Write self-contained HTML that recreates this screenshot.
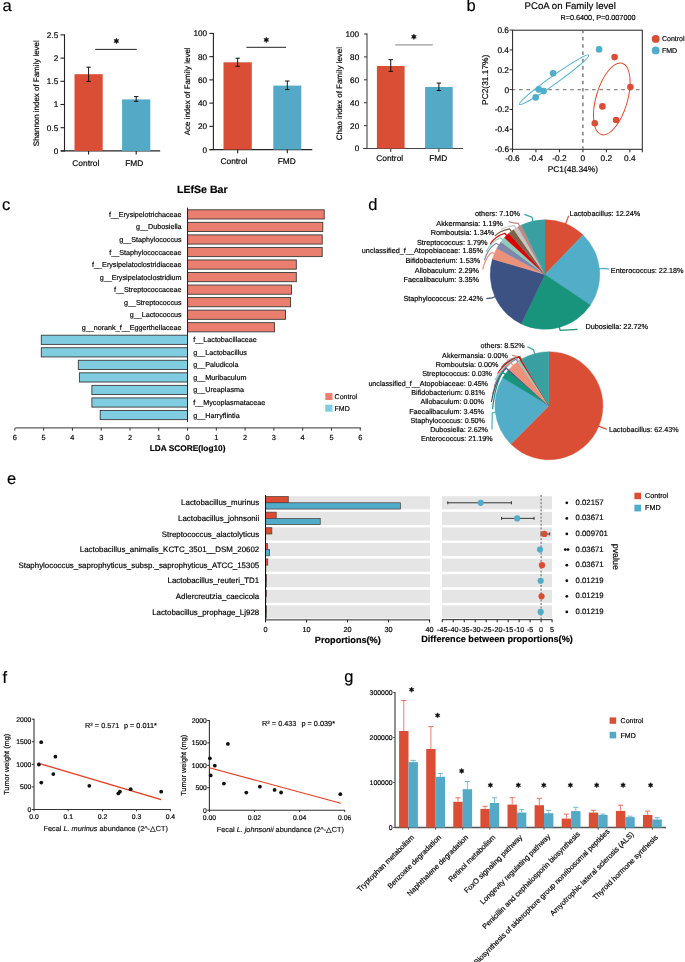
<!DOCTYPE html>
<html><head><meta charset="utf-8"><style>
html,body{margin:0;padding:0;background:#fff;}
svg{display:block;will-change:transform;text-rendering:geometricPrecision;font-family:"Liberation Sans",sans-serif;}
text{stroke:#111;stroke-width:0.18px;paint-order:stroke;}
</style></head><body>
<svg width="685" height="962" viewBox="0 0 685 962">
<rect width="685" height="962" fill="#fff"/>
<text x="2.4" y="11.2" font-size="16.5">a</text>
<text x="466.6" y="11.2" font-size="16.5">b</text>
<text x="1.9" y="210.2" font-size="16.5">c</text>
<text x="368.3" y="209.8" font-size="16.5">d</text>
<text x="7" y="483.9" font-size="16.5">e</text>
<text x="2.6" y="682.6" font-size="16.5">f</text>
<text x="344.3" y="682.4" font-size="16.5">g</text>
<line x1="64.5" y1="34.4" x2="64.5" y2="151.4" stroke="#222" stroke-width="1.1"/>
<line x1="60.9" y1="150.9" x2="160.2" y2="150.9" stroke="#222" stroke-width="1.1"/>
<line x1="60.5" y1="150.9" x2="64.5" y2="150.9" stroke="#222" stroke-width="1.1"/>
<text x="58.2" y="153.8" font-size="8.2" text-anchor="end">0</text>
<line x1="60.5" y1="127.7" x2="64.5" y2="127.7" stroke="#222" stroke-width="1.1"/>
<text x="58.2" y="130.6" font-size="8.2" text-anchor="end">0.5</text>
<line x1="60.5" y1="104.5" x2="64.5" y2="104.5" stroke="#222" stroke-width="1.1"/>
<text x="58.2" y="107.4" font-size="8.2" text-anchor="end">1</text>
<line x1="60.5" y1="81.3" x2="64.5" y2="81.3" stroke="#222" stroke-width="1.1"/>
<text x="58.2" y="84.2" font-size="8.2" text-anchor="end">1.5</text>
<line x1="60.5" y1="58.1" x2="64.5" y2="58.1" stroke="#222" stroke-width="1.1"/>
<text x="58.2" y="61" font-size="8.2" text-anchor="end">2</text>
<line x1="60.5" y1="34.9" x2="64.5" y2="34.9" stroke="#222" stroke-width="1.1"/>
<text x="58.2" y="37.8" font-size="8.2" text-anchor="end">2.5</text>
<rect x="74.5" y="74.2" width="28.2" height="76.7" fill="#D94E34"/>
<line x1="88.6" y1="67.2" x2="88.6" y2="81.4" stroke="#111" stroke-width="1"/>
<line x1="86.4" y1="67.2" x2="90.8" y2="67.2" stroke="#111" stroke-width="1"/>
<line x1="86.4" y1="81.4" x2="90.8" y2="81.4" stroke="#111" stroke-width="1"/>
<line x1="88.6" y1="150.9" x2="88.6" y2="154.5" stroke="#222" stroke-width="1.1"/>
<text x="85.8" y="165.5" font-size="8.35" text-anchor="middle">Control</text>
<rect x="122.1" y="99.4" width="28.2" height="51.5" fill="#54AAC6"/>
<line x1="136.2" y1="96.6" x2="136.2" y2="101.3" stroke="#111" stroke-width="1"/>
<line x1="134" y1="96.6" x2="138.4" y2="96.6" stroke="#111" stroke-width="1"/>
<line x1="134" y1="101.3" x2="138.4" y2="101.3" stroke="#111" stroke-width="1"/>
<line x1="136.2" y1="150.9" x2="136.2" y2="154.5" stroke="#222" stroke-width="1.1"/>
<text x="134.2" y="165.5" font-size="8.35" text-anchor="middle">FMD</text>
<line x1="95.2" y1="49.4" x2="136.8" y2="49.4" stroke="#222" stroke-width="1"/>
<polygon points="116.4,38.25 117.09,39.81 118.78,39.62 117.78,41 118.78,42.38 117.09,42.19 116.4,43.75 115.71,42.19 114.02,42.38 115.03,41 114.02,39.62 115.71,39.81" fill="#111" stroke="#111" stroke-width="0.5" stroke-linejoin="round"/>
<text x="39.3" y="93.2" font-size="7.95" text-anchor="middle" transform="rotate(-90 39.3 93.2)">Shannon index of Family level</text>
<line x1="213.4" y1="32.9" x2="213.4" y2="150.1" stroke="#222" stroke-width="1.1"/>
<line x1="209.5" y1="149.6" x2="312.3" y2="149.6" stroke="#222" stroke-width="1.1"/>
<line x1="209.4" y1="149.6" x2="213.4" y2="149.6" stroke="#222" stroke-width="1.1"/>
<text x="207.1" y="152.5" font-size="8.2" text-anchor="end">0</text>
<line x1="209.4" y1="126.36" x2="213.4" y2="126.36" stroke="#222" stroke-width="1.1"/>
<text x="207.1" y="129.26" font-size="8.2" text-anchor="end">20</text>
<line x1="209.4" y1="103.12" x2="213.4" y2="103.12" stroke="#222" stroke-width="1.1"/>
<text x="207.1" y="106.02" font-size="8.2" text-anchor="end">40</text>
<line x1="209.4" y1="79.88" x2="213.4" y2="79.88" stroke="#222" stroke-width="1.1"/>
<text x="207.1" y="82.78" font-size="8.2" text-anchor="end">60</text>
<line x1="209.4" y1="56.64" x2="213.4" y2="56.64" stroke="#222" stroke-width="1.1"/>
<text x="207.1" y="59.54" font-size="8.2" text-anchor="end">80</text>
<line x1="209.4" y1="33.4" x2="213.4" y2="33.4" stroke="#222" stroke-width="1.1"/>
<text x="207.1" y="36.3" font-size="8.2" text-anchor="end">100</text>
<rect x="223.5" y="62.3" width="28.3" height="87.3" fill="#D94E34"/>
<line x1="237.65" y1="58.2" x2="237.65" y2="66.3" stroke="#111" stroke-width="1"/>
<line x1="235.45" y1="58.2" x2="239.85" y2="58.2" stroke="#111" stroke-width="1"/>
<line x1="235.45" y1="66.3" x2="239.85" y2="66.3" stroke="#111" stroke-width="1"/>
<line x1="237.65" y1="149.6" x2="237.65" y2="153.2" stroke="#222" stroke-width="1.1"/>
<text x="233.95" y="164.1" font-size="8.35" text-anchor="middle">Control</text>
<rect x="273.3" y="85.6" width="28" height="64" fill="#54AAC6"/>
<line x1="287.3" y1="81" x2="287.3" y2="89.6" stroke="#111" stroke-width="1"/>
<line x1="285.1" y1="81" x2="289.5" y2="81" stroke="#111" stroke-width="1"/>
<line x1="285.1" y1="89.6" x2="289.5" y2="89.6" stroke="#111" stroke-width="1"/>
<line x1="287.3" y1="149.6" x2="287.3" y2="153.2" stroke="#222" stroke-width="1.1"/>
<text x="286.7" y="164.1" font-size="8.35" text-anchor="middle">FMD</text>
<line x1="246.4" y1="47.3" x2="286.1" y2="47.3" stroke="#222" stroke-width="1"/>
<polygon points="266.3,37.15 266.99,38.71 268.68,38.52 267.68,39.9 268.68,41.27 266.99,41.09 266.3,42.65 265.61,41.09 263.92,41.27 264.93,39.9 263.92,38.52 265.61,38.71" fill="#111" stroke="#111" stroke-width="0.5" stroke-linejoin="round"/>
<text x="189.6" y="91.3" font-size="7.95" text-anchor="middle" transform="rotate(-90 189.6 91.3)">Ace index of Family level</text>
<line x1="367" y1="33.5" x2="367" y2="149" stroke="#444" stroke-width="1.1"/>
<line x1="363.2" y1="148.5" x2="463" y2="148.5" stroke="#444" stroke-width="1.1"/>
<line x1="364" y1="148.5" x2="367" y2="148.5" stroke="#444" stroke-width="1.1"/>
<text x="359.2" y="151.4" font-size="8.2" text-anchor="end">0</text>
<line x1="364" y1="125.6" x2="367" y2="125.6" stroke="#444" stroke-width="1.1"/>
<text x="359.2" y="128.5" font-size="8.2" text-anchor="end">20</text>
<line x1="364" y1="102.7" x2="367" y2="102.7" stroke="#444" stroke-width="1.1"/>
<text x="359.2" y="105.6" font-size="8.2" text-anchor="end">40</text>
<line x1="364" y1="79.8" x2="367" y2="79.8" stroke="#444" stroke-width="1.1"/>
<text x="359.2" y="82.7" font-size="8.2" text-anchor="end">60</text>
<line x1="364" y1="56.9" x2="367" y2="56.9" stroke="#444" stroke-width="1.1"/>
<text x="359.2" y="59.8" font-size="8.2" text-anchor="end">80</text>
<line x1="364" y1="34" x2="367" y2="34" stroke="#444" stroke-width="1.1"/>
<text x="359.2" y="36.9" font-size="8.2" text-anchor="end">100</text>
<rect x="376.9" y="66" width="27.7" height="82.5" fill="#D94E34"/>
<line x1="390.75" y1="59.7" x2="390.75" y2="71.4" stroke="#111" stroke-width="1"/>
<line x1="388.55" y1="59.7" x2="392.95" y2="59.7" stroke="#111" stroke-width="1"/>
<line x1="388.55" y1="71.4" x2="392.95" y2="71.4" stroke="#111" stroke-width="1"/>
<line x1="390.75" y1="148.5" x2="390.75" y2="152.1" stroke="#444" stroke-width="1.1"/>
<text x="389.7" y="161.3" font-size="8.35" text-anchor="middle">Control</text>
<rect x="425.1" y="87" width="27.6" height="61.5" fill="#54AAC6"/>
<line x1="438.9" y1="83.1" x2="438.9" y2="90.5" stroke="#111" stroke-width="1"/>
<line x1="436.7" y1="83.1" x2="441.1" y2="83.1" stroke="#111" stroke-width="1"/>
<line x1="436.7" y1="90.5" x2="441.1" y2="90.5" stroke="#111" stroke-width="1"/>
<line x1="438.9" y1="148.5" x2="438.9" y2="152.1" stroke="#444" stroke-width="1.1"/>
<text x="438.25" y="161.3" font-size="8.35" text-anchor="middle">FMD</text>
<line x1="395.2" y1="44.9" x2="432.8" y2="44.9" stroke="#999" stroke-width="1.4"/>
<polygon points="413.9,34.05 414.59,35.61 416.28,35.42 415.27,36.8 416.28,38.17 414.59,37.99 413.9,39.55 413.21,37.99 411.52,38.17 412.52,36.8 411.52,35.42 413.21,35.61" fill="#111" stroke="#111" stroke-width="0.5" stroke-linejoin="round"/>
<text x="341.8" y="93.6" font-size="7.95" text-anchor="middle" transform="rotate(-90 341.8 93.6)">Chao index of Family level</text>
<rect x="512.6" y="30.2" width="129.7" height="119.1" fill="none" stroke="#222" stroke-width="1"/>
<line x1="582.9" y1="30.7" x2="582.9" y2="148.8" stroke="#888" stroke-width="1.6" stroke-dasharray="3.6 3.7" stroke-dashoffset="1.1"/>
<line x1="513.1" y1="89.6" x2="639.8" y2="89.6" stroke="#888" stroke-width="1.4" stroke-dasharray="3.6 3.7" stroke-dashoffset="1.3"/>
<line x1="509.6" y1="30.08" x2="512.6" y2="30.08" stroke="#222" stroke-width="1"/>
<text x="509" y="33.08" font-size="8.3" text-anchor="end">0.6</text>
<line x1="509.6" y1="49.92" x2="512.6" y2="49.92" stroke="#222" stroke-width="1"/>
<text x="509" y="52.92" font-size="8.3" text-anchor="end">0.4</text>
<line x1="509.6" y1="69.76" x2="512.6" y2="69.76" stroke="#222" stroke-width="1"/>
<text x="509" y="72.76" font-size="8.3" text-anchor="end">0.2</text>
<line x1="509.6" y1="89.6" x2="512.6" y2="89.6" stroke="#222" stroke-width="1"/>
<text x="509" y="92.6" font-size="8.3" text-anchor="end">0</text>
<line x1="509.6" y1="109.44" x2="512.6" y2="109.44" stroke="#222" stroke-width="1"/>
<text x="509" y="112.44" font-size="8.3" text-anchor="end">-0.2</text>
<line x1="509.6" y1="129.28" x2="512.6" y2="129.28" stroke="#222" stroke-width="1"/>
<text x="509" y="132.28" font-size="8.3" text-anchor="end">-0.4</text>
<line x1="509.6" y1="149.12" x2="512.6" y2="149.12" stroke="#222" stroke-width="1"/>
<text x="509" y="152.12" font-size="8.3" text-anchor="end">-0.6</text>
<line x1="512.46" y1="149.3" x2="512.46" y2="152.3" stroke="#222" stroke-width="1"/>
<text x="512.46" y="160.6" font-size="8.3" text-anchor="middle">-0.6</text>
<line x1="535.94" y1="149.3" x2="535.94" y2="152.3" stroke="#222" stroke-width="1"/>
<text x="535.94" y="160.6" font-size="8.3" text-anchor="middle">-0.4</text>
<line x1="559.42" y1="149.3" x2="559.42" y2="152.3" stroke="#222" stroke-width="1"/>
<text x="559.42" y="160.6" font-size="8.3" text-anchor="middle">-0.2</text>
<line x1="582.9" y1="149.3" x2="582.9" y2="152.3" stroke="#222" stroke-width="1"/>
<text x="582.9" y="160.6" font-size="8.3" text-anchor="middle">0</text>
<line x1="606.38" y1="149.3" x2="606.38" y2="152.3" stroke="#222" stroke-width="1"/>
<text x="606.38" y="160.6" font-size="8.3" text-anchor="middle">0.2</text>
<line x1="629.86" y1="149.3" x2="629.86" y2="152.3" stroke="#222" stroke-width="1"/>
<text x="629.86" y="160.6" font-size="8.3" text-anchor="middle">0.4</text>
<line x1="642.3" y1="149.3" x2="642.3" y2="152.3" stroke="#222" stroke-width="1"/>
<text x="570.2" y="9.4" font-size="9.6" text-anchor="middle">PCoA on Family level</text>
<text x="598" y="20.3" font-size="7.25" text-anchor="middle">R=0.6400, P=0.007000</text>
<text x="572.8" y="171.6" font-size="8.4" text-anchor="middle">PC1(48.34%)</text>
<text x="488.4" y="79.8" font-size="8.4" text-anchor="middle" transform="rotate(-90 488.4 79.8)">PC2(31.17%)</text>
<ellipse cx="554.05" cy="79.8" rx="42.5" ry="4.0" fill="none" stroke="#4FAFCB" stroke-width="1" transform="rotate(-35.4 554.05 79.8)"/>
<ellipse cx="611.8" cy="98.9" rx="15.7" ry="37.2" fill="none" stroke="#D94E34" stroke-width="1" transform="rotate(16.3 611.8 98.9)"/>
<circle cx="599.1" cy="49.4" r="3.3" fill="#4FAFCB"/>
<circle cx="553.1" cy="73.3" r="3.3" fill="#4FAFCB"/>
<circle cx="538.8" cy="89.4" r="3.3" fill="#4FAFCB"/>
<circle cx="543.6" cy="91.1" r="3.3" fill="#4FAFCB"/>
<circle cx="535.7" cy="97.4" r="3.3" fill="#4FAFCB"/>
<circle cx="614.6" cy="57.1" r="3.3" fill="#D94E34"/>
<circle cx="630.4" cy="87.1" r="3.3" fill="#D94E34"/>
<circle cx="602.4" cy="106.4" r="3.3" fill="#D94E34"/>
<circle cx="616.1" cy="120" r="3.3" fill="#D94E34"/>
<circle cx="594.8" cy="123.3" r="3.3" fill="#D94E34"/>
<circle cx="655.7" cy="38.9" r="3.95" fill="#D94E34"/>
<circle cx="655.7" cy="50.4" r="3.95" fill="#4FAFCB"/>
<text x="661.9" y="40.9" font-size="7.05">Control</text>
<text x="661.9" y="52.6" font-size="7.05">FMD</text>
<text x="202.3" y="193.2" font-size="10.6" text-anchor="middle" font-weight="bold">LEfSe Bar</text>
<rect x="187.55" y="209.8" width="136.65" height="9.2" fill="#EA7F6F" stroke="#3a3a3a" stroke-width="0.9"/>
<text x="181.6" y="216.9" font-size="7.2" text-anchor="end">f__Erysipelotrichaceae</text>
<rect x="187.55" y="222.34" width="135.25" height="9.2" fill="#EA7F6F" stroke="#3a3a3a" stroke-width="0.9"/>
<text x="181.6" y="229.44" font-size="7.2" text-anchor="end">g__Dubosiella</text>
<rect x="187.55" y="234.88" width="134.65" height="9.2" fill="#EA7F6F" stroke="#3a3a3a" stroke-width="0.9"/>
<text x="181.6" y="241.98" font-size="7.2" text-anchor="end">g__Staphylococcus</text>
<rect x="187.55" y="247.42" width="134.65" height="9.2" fill="#EA7F6F" stroke="#3a3a3a" stroke-width="0.9"/>
<text x="181.6" y="254.52" font-size="7.2" text-anchor="end">f__Staphylococcaceae</text>
<rect x="187.55" y="259.96" width="108.75" height="9.2" fill="#EA7F6F" stroke="#3a3a3a" stroke-width="0.9"/>
<text x="181.6" y="267.06" font-size="7.2" text-anchor="end">f__Erysipelatoclostridiaceae</text>
<rect x="187.55" y="272.5" width="108.75" height="9.2" fill="#EA7F6F" stroke="#3a3a3a" stroke-width="0.9"/>
<text x="181.6" y="279.6" font-size="7.2" text-anchor="end">g__Erysipelatoclostridium</text>
<rect x="187.55" y="285.04" width="103.95" height="9.2" fill="#EA7F6F" stroke="#3a3a3a" stroke-width="0.9"/>
<text x="181.6" y="292.14" font-size="7.2" text-anchor="end">f__Streptococcaceae</text>
<rect x="187.55" y="297.58" width="103.05" height="9.2" fill="#EA7F6F" stroke="#3a3a3a" stroke-width="0.9"/>
<text x="181.6" y="304.68" font-size="7.2" text-anchor="end">g__Streptococcus</text>
<rect x="187.55" y="310.12" width="97.95" height="9.2" fill="#EA7F6F" stroke="#3a3a3a" stroke-width="0.9"/>
<text x="181.6" y="317.22" font-size="7.2" text-anchor="end">g__Lactococcus</text>
<rect x="187.55" y="322.66" width="86.85" height="9.2" fill="#EA7F6F" stroke="#3a3a3a" stroke-width="0.9"/>
<text x="181.6" y="329.76" font-size="7.2" text-anchor="end">g__norank_f__Eggerthellaceae</text>
<rect x="41.3" y="335.2" width="146.25" height="9.2" fill="#80CCE0" stroke="#3a3a3a" stroke-width="0.9"/>
<text x="193.3" y="342.3" font-size="7.2">f__Lactobacillaceae</text>
<rect x="41.3" y="347.74" width="146.25" height="9.2" fill="#80CCE0" stroke="#3a3a3a" stroke-width="0.9"/>
<text x="193.3" y="354.84" font-size="7.2">g__Lactobacillus</text>
<rect x="78.3" y="360.28" width="109.25" height="9.2" fill="#80CCE0" stroke="#3a3a3a" stroke-width="0.9"/>
<text x="193.3" y="367.38" font-size="7.2">g__Paludicola</text>
<rect x="79.4" y="372.82" width="108.15" height="9.2" fill="#80CCE0" stroke="#3a3a3a" stroke-width="0.9"/>
<text x="193.3" y="379.92" font-size="7.2">g__Muribaculum</text>
<rect x="91.9" y="385.36" width="95.65" height="9.2" fill="#80CCE0" stroke="#3a3a3a" stroke-width="0.9"/>
<text x="193.3" y="392.46" font-size="7.2">g__Ureaplasma</text>
<rect x="91.9" y="397.9" width="95.65" height="9.2" fill="#80CCE0" stroke="#3a3a3a" stroke-width="0.9"/>
<text x="193.3" y="405" font-size="7.2">f__Mycoplasmataceae</text>
<rect x="100.2" y="410.44" width="87.35" height="9.2" fill="#80CCE0" stroke="#3a3a3a" stroke-width="0.9"/>
<text x="193.3" y="417.54" font-size="7.2">g__Harryflintia</text>
<line x1="187.55" y1="207.6" x2="187.55" y2="421.9" stroke="#222" stroke-width="1"/>
<line x1="15.3" y1="427.9" x2="360.9" y2="427.9" stroke="#333" stroke-width="1"/>
<line x1="14.87" y1="427.9" x2="14.87" y2="430.6" stroke="#333" stroke-width="1"/>
<text x="14.87" y="439.9" font-size="7.4" text-anchor="middle">6</text>
<line x1="43.65" y1="427.9" x2="43.65" y2="430.6" stroke="#333" stroke-width="1"/>
<text x="43.65" y="439.9" font-size="7.4" text-anchor="middle">5</text>
<line x1="72.43" y1="427.9" x2="72.43" y2="430.6" stroke="#333" stroke-width="1"/>
<text x="72.43" y="439.9" font-size="7.4" text-anchor="middle">4</text>
<line x1="101.21" y1="427.9" x2="101.21" y2="430.6" stroke="#333" stroke-width="1"/>
<text x="101.21" y="439.9" font-size="7.4" text-anchor="middle">3</text>
<line x1="129.99" y1="427.9" x2="129.99" y2="430.6" stroke="#333" stroke-width="1"/>
<text x="129.99" y="439.9" font-size="7.4" text-anchor="middle">2</text>
<line x1="158.77" y1="427.9" x2="158.77" y2="430.6" stroke="#333" stroke-width="1"/>
<text x="158.77" y="439.9" font-size="7.4" text-anchor="middle">1</text>
<line x1="187.55" y1="427.9" x2="187.55" y2="430.6" stroke="#333" stroke-width="1"/>
<text x="187.55" y="439.9" font-size="7.4" text-anchor="middle">0</text>
<line x1="216.33" y1="427.9" x2="216.33" y2="430.6" stroke="#333" stroke-width="1"/>
<text x="216.33" y="439.9" font-size="7.4" text-anchor="middle">1</text>
<line x1="245.11" y1="427.9" x2="245.11" y2="430.6" stroke="#333" stroke-width="1"/>
<text x="245.11" y="439.9" font-size="7.4" text-anchor="middle">2</text>
<line x1="273.89" y1="427.9" x2="273.89" y2="430.6" stroke="#333" stroke-width="1"/>
<text x="273.89" y="439.9" font-size="7.4" text-anchor="middle">3</text>
<line x1="302.67" y1="427.9" x2="302.67" y2="430.6" stroke="#333" stroke-width="1"/>
<text x="302.67" y="439.9" font-size="7.4" text-anchor="middle">4</text>
<line x1="331.45" y1="427.9" x2="331.45" y2="430.6" stroke="#333" stroke-width="1"/>
<text x="331.45" y="439.9" font-size="7.4" text-anchor="middle">5</text>
<line x1="360.23" y1="427.9" x2="360.23" y2="430.6" stroke="#333" stroke-width="1"/>
<text x="360.23" y="439.9" font-size="7.4" text-anchor="middle">6</text>
<text x="187.6" y="451.2" font-size="8.3" text-anchor="middle" font-weight="bold">LDA SCORE(log10)</text>
<rect x="325.3" y="393.1" width="7.2" height="6.9" fill="#EA7F6F"/>
<rect x="325.3" y="404.7" width="7.2" height="7" fill="#80CCE0"/>
<text x="334.6" y="399" font-size="7">Control</text>
<text x="334.6" y="410.6" font-size="7">FMD</text>
<path d="M545,274.5 L545,219.7 A54.8,54.8 0 0 1 583.11,235.12 Z" stroke="#D94E34" stroke-width="0.4" fill="#D94E34"/>
<path d="M545,274.5 L583.11,235.12 A54.8,54.8 0 0 1 590.48,305.07 Z" stroke="#52ADC9" stroke-width="0.4" fill="#52ADC9"/>
<path d="M545,274.5 L590.48,305.07 A54.8,54.8 0 0 1 521.23,323.88 Z" stroke="#18947D" stroke-width="0.4" fill="#18947D"/>
<path d="M545,274.5 L521.23,323.88 A54.8,54.8 0 0 1 492.43,259.01 Z" stroke="#3B5282" stroke-width="0.4" fill="#3B5282"/>
<path d="M545,274.5 L492.43,259.01 A54.8,54.8 0 0 1 496.83,248.37 Z" stroke="#EC917A" stroke-width="0.4" fill="#EC917A"/>
<path d="M545,274.5 L496.83,248.37 A54.8,54.8 0 0 1 501.07,241.73 Z" stroke="#7F87AA" stroke-width="0.4" fill="#7F87AA"/>
<path d="M545,274.5 L501.07,241.73 A54.8,54.8 0 0 1 504.42,237.67 Z" stroke="#8ECDBB" stroke-width="0.4" fill="#8ECDBB"/>
<path d="M545,274.5 L504.42,237.67 A54.8,54.8 0 0 1 508.97,233.21 Z" stroke="#D80000" stroke-width="0.4" fill="#D80000"/>
<path d="M545,274.5 L508.97,233.21 A54.8,54.8 0 0 1 513.83,229.43 Z" stroke="#7E6148" stroke-width="0.4" fill="#7E6148"/>
<path d="M545,274.5 L513.83,229.43 A54.8,54.8 0 0 1 517.73,226.97 Z" stroke="#C6C6C6" stroke-width="0.4" fill="#C6C6C6"/>
<path d="M545,274.5 L517.73,226.97 A54.8,54.8 0 0 1 521.36,225.06 Z" stroke="#BE8985" stroke-width="0.4" fill="#BE8985"/>
<path d="M545,274.5 L521.36,225.06 A54.8,54.8 0 0 1 545,219.7 Z" stroke="#3A9FA0" stroke-width="0.4" fill="#3A9FA0"/>
<path d="M568.6,215.8 Q568.2,216.97 567.81,218.14 L565.37,224.17" stroke="#D94E34" stroke-width="1.2" fill="none"/>
<text x="569.6" y="216.1" font-size="7.28">Lactobacillus: 12.24%</text>
<path d="M609.2,269.2 Q606.34,268.77 603.48,268.34 L599,268.81" stroke="#52ADC9" stroke-width="1.2" fill="none"/>
<text x="610.8" y="272.7" font-size="7.28">Enterococcus: 22.18%</text>
<path d="M577.5,329.4 Q568.82,329.84 560.15,330.28 L559.23,326.9" stroke="#18947D" stroke-width="1.2" fill="none"/>
<text x="585.4" y="329.2" font-size="7.28">Dubosiella: 22.72%</text>
<path d="M486.4,298.6 Q489.29,298.28 492.17,297.95 L495.37,296.53" stroke="#3B5282" stroke-width="1.2" fill="none"/>
<text x="483" y="301.1" font-size="7.28" text-anchor="end">Staphylococcus: 22.42%</text>
<path d="M524.4,214.4 Q528.2,215.78 531.99,217.16 L532.99,221.55" stroke="#3A9FA0" stroke-width="1.2" fill="none"/>
<text x="519.9" y="216" font-size="7.28" text-anchor="end">others: 7.10%</text>
<path d="M508.8,221.6 Q511.6,222.81 518.13,223.33 L519.76,226.42" stroke="#BE8985" stroke-width="1.2" fill="none"/>
<text x="503" y="225.8" font-size="7.28" text-anchor="end">Akkermansia: 1.19%</text>
<path d="M501,229.4 Q504.95,226.75 514.15,225.62 L516.02,228.58" stroke="#C6C6C6" stroke-width="1.2" fill="none"/>
<text x="494.2" y="234.7" font-size="7.28" text-anchor="end">Romboutsia: 1.34%</text>
<path d="M494.8,236.2 Q499.21,231.08 509.5,228.88 L511.65,231.65" stroke="#7E6148" stroke-width="1.2" fill="none"/>
<text x="487.6" y="244.5" font-size="7.28" text-anchor="end">Streptococcus: 1.79%</text>
<path d="M490.1,244.5 Q494.43,236.61 504.53,233.23 L506.98,235.73" stroke="#D80000" stroke-width="1.2" fill="none"/>
<text x="483" y="253.4" font-size="7.28" text-anchor="end">unclassified_f__Atopobiaceae: 1.85%</text>
<path d="M486.4,251.8 Q490.6,241.97 500.38,237.75 L503.09,239.98" stroke="#8ECDBB" stroke-width="1.2" fill="none"/>
<text x="480.2" y="263.2" font-size="7.28" text-anchor="end">Bifidobacterium: 1.53%</text>
<path d="M484.4,260.1 Q487.97,248.38 496.31,243.36 L499.25,245.25" stroke="#7F87AA" stroke-width="1.2" fill="none"/>
<text x="479" y="272.5" font-size="7.28" text-anchor="end">Allobaculum: 2.29%</text>
<path d="M482.8,269.5 Q485.43,257.55 491.58,252.43 L494.81,253.77" stroke="#EC917A" stroke-width="1.2" fill="none"/>
<text x="479" y="281.9" font-size="7.28" text-anchor="end">Faecalibaculum: 3.35%</text>
<path d="M548.9,405.7 L548.9,351.7 A54.0,54.0 0 1 1 510.88,444.05 Z" stroke="#D94E34" stroke-width="0.4" fill="#D94E34"/>
<path d="M548.9,405.7 L510.88,444.05 A54.0,54.0 0 0 1 502.63,377.86 Z" stroke="#52ADC9" stroke-width="0.4" fill="#52ADC9"/>
<path d="M548.9,405.7 L502.63,377.86 A54.0,54.0 0 0 1 507.82,370.66 Z" stroke="#18947D" stroke-width="0.4" fill="#18947D"/>
<path d="M548.9,405.7 L507.82,370.66 A54.0,54.0 0 0 1 508.94,369.38 Z" stroke="#3B5282" stroke-width="0.4" fill="#3B5282"/>
<path d="M548.9,405.7 L508.94,369.38 A54.0,54.0 0 0 1 517.68,361.64 Z" stroke="#EC917A" stroke-width="0.4" fill="#EC917A"/>
<path d="M548.9,405.7 L517.68,361.64 A54.0,54.0 0 0 1 519.97,360.11 Z" stroke="#8ECDBB" stroke-width="0.4" fill="#8ECDBB"/>
<path d="M548.9,405.7 L519.97,360.11 A54.0,54.0 0 0 1 521.27,359.31 Z" stroke="#D80000" stroke-width="0.4" fill="#D80000"/>
<path d="M548.9,405.7 L521.27,359.31 A54.0,54.0 0 0 1 521.35,359.25 Z" stroke="#7E6148" stroke-width="0.4" fill="#7E6148"/>
<path d="M548.9,405.7 L521.35,359.25 A54.0,54.0 0 0 1 548.9,351.7 Z" stroke="#3A9FA0" stroke-width="0.4" fill="#3A9FA0"/>
<path d="M607.1,429.2 Q604.35,428.3 601.61,427.4 L598.37,426.06" stroke="#D94E34" stroke-width="1.2" fill="none"/>
<text x="608.9" y="431.7" font-size="7.18">Lactobacillus: 62.43%</text>
<path d="M527.3,346.7 Q530.43,348.23 533.56,349.77 L534.75,354.11" stroke="#3A9FA0" stroke-width="1.2" fill="none"/>
<text x="524.7" y="348.4" font-size="7.18" text-anchor="end">others: 8.52%</text>
<path d="M512.2,355.1 Q514.49,356.2 519.82,356.67 L521.61,359.68" stroke="#BE8985" stroke-width="1.2" fill="none"/>
<text x="507.9" y="357.5" font-size="7.18" text-anchor="end">Akkermansia: 0.00%</text>
<path d="M506.5,361.2 Q510.5,358.03 519.82,356.67 L521.61,359.68" stroke="#C6C6C6" stroke-width="1.2" fill="none"/>
<text x="498.3" y="367.1" font-size="7.18" text-anchor="end">Romboutsia: 0.00%</text>
<path d="M501.3,367.5 Q506.84,359.94 519.78,356.7 L521.57,359.71" stroke="#7E6148" stroke-width="1.2" fill="none"/>
<text x="492" y="376.2" font-size="7.18" text-anchor="end">Streptococcus: 0.03%</text>
<path d="M497.7,373.8 Q504.1,362.14 519.04,357.15 L520.87,360.13" stroke="#D80000" stroke-width="1.2" fill="none"/>
<text x="488" y="385.8" font-size="7.18" text-anchor="end">unclassified_f__Atopobiaceae: 0.45%</text>
<path d="M495.1,380 Q501.71,364.86 517.14,358.37 L519.09,361.27" stroke="#8ECDBB" stroke-width="1.2" fill="none"/>
<text x="485" y="395.1" font-size="7.18" text-anchor="end">Bifidobacterium: 0.81%</text>
<path d="M494,386.8 Q500.58,367.47 515.95,359.19 L517.97,362.05" stroke="#7F87AA" stroke-width="1.2" fill="none"/>
<text x="483.8" y="404" font-size="7.18" text-anchor="end">Allobaculum: 0.00%</text>
<path d="M492.5,394.1 Q498.08,372.35 511.11,363.03 L513.43,365.65" stroke="#EC917A" stroke-width="1.2" fill="none"/>
<text x="483.8" y="413.6" font-size="7.18" text-anchor="end">Faecalibaculum: 3.45%</text>
<path d="M491.4,401.9 Q495.82,378.19 506.12,368.03 L508.75,370.35" stroke="#3B5282" stroke-width="1.2" fill="none"/>
<text x="485" y="422.7" font-size="7.18" text-anchor="end">Staphylococcus: 0.50%</text>
<path d="M492.5,409.1 Q495.54,383.41 502.64,372.4 L505.48,374.44" stroke="#18947D" stroke-width="1.2" fill="none"/>
<text x="488" y="432" font-size="7.18" text-anchor="end">Dubosiella: 2.62%</text>
<path d="M492,429.4 Q492.1,417.75 492.34,412.76 L495.81,412.32" stroke="#52ADC9" stroke-width="1.2" fill="none"/>
<text x="492.7" y="441.4" font-size="7.18" text-anchor="end">Enterococcus: 21.19%</text>
<rect x="265.5" y="496.25" width="164.4" height="13.09" fill="#E5E5E5"/>
<rect x="442" y="496.25" width="110.1" height="13.09" fill="#E5E5E5"/>
<rect x="265.5" y="511.84" width="164.4" height="13.09" fill="#E5E5E5"/>
<rect x="442" y="511.84" width="110.1" height="13.09" fill="#E5E5E5"/>
<rect x="265.5" y="527.43" width="164.4" height="13.09" fill="#E5E5E5"/>
<rect x="442" y="527.43" width="110.1" height="13.09" fill="#E5E5E5"/>
<rect x="265.5" y="543.02" width="164.4" height="13.09" fill="#E5E5E5"/>
<rect x="442" y="543.02" width="110.1" height="13.09" fill="#E5E5E5"/>
<rect x="265.5" y="558.61" width="164.4" height="13.09" fill="#E5E5E5"/>
<rect x="442" y="558.61" width="110.1" height="13.09" fill="#E5E5E5"/>
<rect x="265.5" y="574.2" width="164.4" height="13.09" fill="#E5E5E5"/>
<rect x="442" y="574.2" width="110.1" height="13.09" fill="#E5E5E5"/>
<rect x="265.5" y="589.79" width="164.4" height="13.09" fill="#E5E5E5"/>
<rect x="442" y="589.79" width="110.1" height="13.09" fill="#E5E5E5"/>
<rect x="265.5" y="605.38" width="164.4" height="13.09" fill="#E5E5E5"/>
<rect x="442" y="605.38" width="110.1" height="13.09" fill="#E5E5E5"/>
<rect x="265.5" y="496.55" width="22.75" height="6.24" fill="#DA4D33" stroke="#4a3a36" stroke-width="0.7"/>
<rect x="265.5" y="502.79" width="134.89" height="6.25" fill="#4FADC9" stroke="#4a3a36" stroke-width="0.7"/>
<text x="259.2" y="505.49" font-size="7.9" text-anchor="end">Lactobacillus_murinus</text>
<line x1="447.77" y1="502.79" x2="511.45" y2="502.79" stroke="#222" stroke-width="0.9"/>
<line x1="447.77" y1="501.29" x2="447.77" y2="504.29" stroke="#222" stroke-width="0.9"/>
<line x1="511.45" y1="501.29" x2="511.45" y2="504.29" stroke="#222" stroke-width="0.9"/>
<text x="575.6" y="504.79" font-size="7.75">0.02157</text>
<circle cx="566.8" cy="502.79" r="1.4" fill="#111"/>
<rect x="265.5" y="512.14" width="10.66" height="6.25" fill="#DA4D33" stroke="#4a3a36" stroke-width="0.7"/>
<rect x="265.5" y="518.38" width="54.73" height="6.24" fill="#4FADC9" stroke="#4a3a36" stroke-width="0.7"/>
<text x="259.2" y="521.09" font-size="7.9" text-anchor="end">Lactobacillus_johnsonii</text>
<line x1="501.57" y1="518.38" x2="534.07" y2="518.38" stroke="#222" stroke-width="0.9"/>
<line x1="501.57" y1="516.88" x2="501.57" y2="519.88" stroke="#222" stroke-width="0.9"/>
<line x1="534.07" y1="516.88" x2="534.07" y2="519.88" stroke="#222" stroke-width="0.9"/>
<text x="575.6" y="520.38" font-size="7.75">0.03671</text>
<circle cx="566.8" cy="518.38" r="1.4" fill="#111"/>
<rect x="265.5" y="527.73" width="6.35" height="6.24" fill="#DA4D33" stroke="#4a3a36" stroke-width="0.7"/>
<rect x="265.5" y="533.97" width="0.2" height="6.25" fill="#4FADC9" stroke="#4a3a36" stroke-width="0.7"/>
<text x="259.2" y="536.67" font-size="7.9" text-anchor="end">Streptococcus_alactolyticus</text>
<line x1="541.1" y1="533.97" x2="549.66" y2="533.97" stroke="#222" stroke-width="0.9"/>
<line x1="541.1" y1="532.47" x2="541.1" y2="535.47" stroke="#222" stroke-width="0.9"/>
<line x1="549.66" y1="532.47" x2="549.66" y2="535.47" stroke="#222" stroke-width="0.9"/>
<text x="575.6" y="535.97" font-size="7.75">0.009701</text>
<circle cx="566.8" cy="533.97" r="1.4" fill="#111"/>
<rect x="265.5" y="543.32" width="1.84" height="6.25" fill="#DA4D33" stroke="#4a3a36" stroke-width="0.7"/>
<rect x="265.5" y="549.57" width="3.89" height="6.24" fill="#4FADC9" stroke="#4a3a36" stroke-width="0.7"/>
<text x="259.2" y="552.27" font-size="7.9" text-anchor="end">Lactobacillus_animalis_KCTC_3501__DSM_20602</text>
<text x="575.6" y="551.57" font-size="7.75">0.03671</text>
<circle cx="565.3" cy="549.57" r="1.4" fill="#111"/>
<circle cx="568" cy="549.57" r="1.4" fill="#111"/>
<rect x="265.5" y="558.91" width="2.25" height="6.24" fill="#DA4D33" stroke="#4a3a36" stroke-width="0.7"/>
<rect x="265.5" y="565.15" width="0.33" height="6.25" fill="#4FADC9" stroke="#4a3a36" stroke-width="0.7"/>
<text x="259.2" y="567.86" font-size="7.9" text-anchor="end">Staphylococcus_saprophyticus_subsp._saprophyticus_ATCC_15305</text>
<text x="575.6" y="567.15" font-size="7.75">0.03671</text>
<circle cx="566.8" cy="565.15" r="1.4" fill="#111"/>
<rect x="265.5" y="574.5" width="1.02" height="6.24" fill="#DA4D33" stroke="#4a3a36" stroke-width="0.7"/>
<rect x="265.5" y="580.75" width="0.82" height="6.24" fill="#4FADC9" stroke="#4a3a36" stroke-width="0.7"/>
<text x="259.2" y="583.45" font-size="7.9" text-anchor="end">Lactobacillus_reuteri_TD1</text>
<text x="575.6" y="582.75" font-size="7.75">0.01219</text>
<circle cx="566.8" cy="580.75" r="1.4" fill="#111"/>
<rect x="265.5" y="590.09" width="1.02" height="6.25" fill="#DA4D33" stroke="#4a3a36" stroke-width="0.7"/>
<rect x="265.5" y="596.34" width="0.41" height="6.24" fill="#4FADC9" stroke="#4a3a36" stroke-width="0.7"/>
<text x="259.2" y="599.04" font-size="7.9" text-anchor="end">Adlercreutzia_caecicola</text>
<text x="575.6" y="598.34" font-size="7.75">0.01219</text>
<circle cx="566.8" cy="596.34" r="1.4" fill="#111"/>
<rect x="265.5" y="605.68" width="0.9" height="6.24" fill="#DA4D33" stroke="#4a3a36" stroke-width="0.7"/>
<rect x="265.5" y="611.92" width="0.82" height="6.25" fill="#4FADC9" stroke="#4a3a36" stroke-width="0.7"/>
<text x="259.2" y="614.62" font-size="7.9" text-anchor="end">Lactobacillus_prophage_Lj928</text>
<text x="575.6" y="613.92" font-size="7.75">0.01219</text>
<circle cx="566.8" cy="611.92" r="1.4" fill="#111"/>
<line x1="541.1" y1="495" x2="541.1" y2="619.5" stroke="#555" stroke-width="0.9" stroke-dasharray="2 1.6"/>
<circle cx="480.71" cy="502.79" r="3.1" fill="#4FADC9"/>
<circle cx="517.16" cy="518.38" r="3.1" fill="#4FADC9"/>
<circle cx="544.39" cy="533.97" r="3.1" fill="#DA4D33"/>
<circle cx="540" cy="549.57" r="3.1" fill="#4FADC9"/>
<circle cx="541.98" cy="565.15" r="3.1" fill="#DA4D33"/>
<circle cx="540.66" cy="580.75" r="3.1" fill="#4FADC9"/>
<circle cx="541.54" cy="596.34" r="3.1" fill="#DA4D33"/>
<circle cx="540.66" cy="611.92" r="3.1" fill="#4FADC9"/>
<line x1="265.5" y1="495" x2="265.5" y2="620.2" stroke="#111" stroke-width="1"/>
<line x1="265.5" y1="619.9" x2="430.2" y2="619.9" stroke="#222" stroke-width="1"/>
<line x1="265.5" y1="619.9" x2="265.5" y2="622.4" stroke="#222" stroke-width="1"/>
<text x="265.5" y="631.9" font-size="7.3" text-anchor="middle">0</text>
<line x1="306.5" y1="619.9" x2="306.5" y2="622.4" stroke="#222" stroke-width="1"/>
<text x="306.5" y="631.9" font-size="7.3" text-anchor="middle">10</text>
<line x1="347.5" y1="619.9" x2="347.5" y2="622.4" stroke="#222" stroke-width="1"/>
<text x="347.5" y="631.9" font-size="7.3" text-anchor="middle">20</text>
<line x1="388.5" y1="619.9" x2="388.5" y2="622.4" stroke="#222" stroke-width="1"/>
<text x="388.5" y="631.9" font-size="7.3" text-anchor="middle">30</text>
<line x1="429.5" y1="619.9" x2="429.5" y2="622.4" stroke="#222" stroke-width="1"/>
<text x="429.5" y="631.9" font-size="7.3" text-anchor="middle">40</text>
<line x1="442" y1="619.7" x2="552.4" y2="619.7" stroke="#222" stroke-width="1"/>
<line x1="442.28" y1="619.7" x2="442.28" y2="622.3" stroke="#222" stroke-width="1"/>
<text x="442.28" y="631.9" font-size="7.2" text-anchor="middle">-45</text>
<line x1="453.26" y1="619.7" x2="453.26" y2="622.3" stroke="#222" stroke-width="1"/>
<text x="453.26" y="631.9" font-size="7.2" text-anchor="middle">-40</text>
<line x1="464.24" y1="619.7" x2="464.24" y2="622.3" stroke="#222" stroke-width="1"/>
<text x="464.24" y="631.9" font-size="7.2" text-anchor="middle">-35</text>
<line x1="475.22" y1="619.7" x2="475.22" y2="622.3" stroke="#222" stroke-width="1"/>
<text x="475.22" y="631.9" font-size="7.2" text-anchor="middle">-30</text>
<line x1="486.2" y1="619.7" x2="486.2" y2="622.3" stroke="#222" stroke-width="1"/>
<text x="486.2" y="631.9" font-size="7.2" text-anchor="middle">-25</text>
<line x1="497.18" y1="619.7" x2="497.18" y2="622.3" stroke="#222" stroke-width="1"/>
<text x="497.18" y="631.9" font-size="7.2" text-anchor="middle">-20</text>
<line x1="508.16" y1="619.7" x2="508.16" y2="622.3" stroke="#222" stroke-width="1"/>
<text x="508.16" y="631.9" font-size="7.2" text-anchor="middle">-15</text>
<line x1="519.14" y1="619.7" x2="519.14" y2="622.3" stroke="#222" stroke-width="1"/>
<text x="519.14" y="631.9" font-size="7.2" text-anchor="middle">-10</text>
<line x1="530.12" y1="619.7" x2="530.12" y2="622.3" stroke="#222" stroke-width="1"/>
<text x="530.12" y="631.9" font-size="7.2" text-anchor="middle">-5</text>
<line x1="541.1" y1="619.7" x2="541.1" y2="622.3" stroke="#222" stroke-width="1"/>
<text x="541.1" y="631.9" font-size="7.2" text-anchor="middle">0</text>
<line x1="552.08" y1="619.7" x2="552.08" y2="622.3" stroke="#222" stroke-width="1"/>
<text x="552.08" y="631.9" font-size="7.2" text-anchor="middle">5</text>
<text x="347.8" y="642.8" font-size="9.14" text-anchor="middle" font-weight="bold">Proportions(%)</text>
<text x="497" y="642.4" font-size="9.14" text-anchor="middle" font-weight="bold">Difference between proportions(%)</text>
<text x="613.2" y="556.8" font-size="8.9" text-anchor="middle" transform="rotate(90 613.2 556.8)">pvalue</text>
<rect x="634.4" y="492.7" width="6.6" height="6.5" fill="#DA4D33"/>
<rect x="634.4" y="504.7" width="6.6" height="6.7" fill="#4FADC9"/>
<text x="645" y="498.2" font-size="7.2">Control</text>
<text x="645" y="510.4" font-size="7.2">FMD</text>
<line x1="34" y1="718.8" x2="34" y2="810" stroke="#333" stroke-width="1.1"/>
<line x1="34" y1="809.5" x2="170.8" y2="809.5" stroke="#333" stroke-width="1.1"/>
<line x1="31.8" y1="809.5" x2="34" y2="809.5" stroke="#333" stroke-width="1"/>
<text x="31.4" y="811.9" font-size="6.8" text-anchor="end">0</text>
<line x1="31.8" y1="786.92" x2="34" y2="786.92" stroke="#333" stroke-width="1"/>
<text x="31.4" y="789.32" font-size="6.8" text-anchor="end">500</text>
<line x1="31.8" y1="764.35" x2="34" y2="764.35" stroke="#333" stroke-width="1"/>
<text x="31.4" y="766.75" font-size="6.8" text-anchor="end">1000</text>
<line x1="31.8" y1="741.78" x2="34" y2="741.78" stroke="#333" stroke-width="1"/>
<text x="31.4" y="744.18" font-size="6.8" text-anchor="end">1500</text>
<line x1="31.8" y1="719.2" x2="34" y2="719.2" stroke="#333" stroke-width="1"/>
<text x="31.4" y="721.6" font-size="6.8" text-anchor="end">2000</text>
<line x1="34" y1="809.5" x2="34" y2="811.3" stroke="#333" stroke-width="1"/>
<text x="34" y="819.2" font-size="6.8" text-anchor="middle">0.0</text>
<line x1="68.2" y1="809.5" x2="68.2" y2="811.3" stroke="#333" stroke-width="1"/>
<text x="68.2" y="819.2" font-size="6.8" text-anchor="middle">0.1</text>
<line x1="102.5" y1="809.5" x2="102.5" y2="811.3" stroke="#333" stroke-width="1"/>
<text x="102.5" y="819.2" font-size="6.8" text-anchor="middle">0.2</text>
<line x1="136.6" y1="809.5" x2="136.6" y2="811.3" stroke="#333" stroke-width="1"/>
<text x="136.6" y="819.2" font-size="6.8" text-anchor="middle">0.3</text>
<line x1="170.4" y1="809.5" x2="170.4" y2="811.3" stroke="#333" stroke-width="1"/>
<text x="170.4" y="819.2" font-size="6.8" text-anchor="middle">0.4</text>
<line x1="40.6" y1="763.9" x2="161.2" y2="799.6" stroke="#E8391E" stroke-width="1.1"/>
<circle cx="38.9" cy="764.5" r="1.9" fill="#111"/>
<circle cx="41.2" cy="742.2" r="1.9" fill="#111"/>
<circle cx="41.3" cy="782.6" r="1.9" fill="#111"/>
<circle cx="55.4" cy="756.7" r="1.9" fill="#111"/>
<circle cx="53.3" cy="774.1" r="1.9" fill="#111"/>
<circle cx="89.3" cy="785.8" r="1.9" fill="#111"/>
<circle cx="118.3" cy="793.4" r="1.9" fill="#111"/>
<circle cx="119.9" cy="791.7" r="1.9" fill="#111"/>
<circle cx="130.7" cy="789.2" r="1.9" fill="#111"/>
<circle cx="161.2" cy="791.7" r="1.9" fill="#111"/>
<text x="85" y="728.3" font-size="7.3" fill="#111">R<tspan font-size="4.6" dy="-2.6">2</tspan><tspan dy="2.6"> = 0.571</tspan></text>
<text x="124" y="728.3" font-size="7.3">p = 0.011*</text>
<text x="105.7" y="831" font-size="7.3" fill="#111" text-anchor="middle">Fecal <tspan font-style="italic">L. murinus</tspan> abundance (2^-△CT)</text>
<text x="9.4" y="764.35" font-size="7.3" text-anchor="middle" transform="rotate(-90 9.4 764.35)">Tumor weight (mg)</text>
<line x1="209.4" y1="720.1" x2="209.4" y2="810.7" stroke="#333" stroke-width="1.1"/>
<line x1="209.4" y1="810.2" x2="345.1" y2="810.2" stroke="#333" stroke-width="1.1"/>
<line x1="207.2" y1="810.2" x2="209.4" y2="810.2" stroke="#333" stroke-width="1"/>
<text x="206.8" y="812.6" font-size="6.8" text-anchor="end">0</text>
<line x1="207.2" y1="787.78" x2="209.4" y2="787.78" stroke="#333" stroke-width="1"/>
<text x="206.8" y="790.18" font-size="6.8" text-anchor="end">500</text>
<line x1="207.2" y1="765.35" x2="209.4" y2="765.35" stroke="#333" stroke-width="1"/>
<text x="206.8" y="767.75" font-size="6.8" text-anchor="end">1000</text>
<line x1="207.2" y1="742.92" x2="209.4" y2="742.92" stroke="#333" stroke-width="1"/>
<text x="206.8" y="745.32" font-size="6.8" text-anchor="end">1500</text>
<line x1="207.2" y1="720.5" x2="209.4" y2="720.5" stroke="#333" stroke-width="1"/>
<text x="206.8" y="722.9" font-size="6.8" text-anchor="end">2000</text>
<line x1="209.4" y1="810.2" x2="209.4" y2="812" stroke="#333" stroke-width="1"/>
<text x="209.4" y="819.9" font-size="6.8" text-anchor="middle">0.00</text>
<line x1="254.4" y1="810.2" x2="254.4" y2="812" stroke="#333" stroke-width="1"/>
<text x="254.4" y="819.9" font-size="6.8" text-anchor="middle">0.02</text>
<line x1="299.6" y1="810.2" x2="299.6" y2="812" stroke="#333" stroke-width="1"/>
<text x="299.6" y="819.9" font-size="6.8" text-anchor="middle">0.04</text>
<line x1="344.7" y1="810.2" x2="344.7" y2="812" stroke="#333" stroke-width="1"/>
<text x="344.7" y="819.9" font-size="6.8" text-anchor="middle">0.06</text>
<line x1="209.4" y1="767.7" x2="340.8" y2="803.3" stroke="#E8391E" stroke-width="1.1"/>
<circle cx="209.9" cy="758.3" r="1.9" fill="#111"/>
<circle cx="210.7" cy="775.4" r="1.9" fill="#111"/>
<circle cx="214.8" cy="765.7" r="1.9" fill="#111"/>
<circle cx="227.9" cy="743.9" r="1.9" fill="#111"/>
<circle cx="223.9" cy="783.6" r="1.9" fill="#111"/>
<circle cx="246.3" cy="792.6" r="1.9" fill="#111"/>
<circle cx="259.9" cy="786.7" r="1.9" fill="#111"/>
<circle cx="274.6" cy="789.9" r="1.9" fill="#111"/>
<circle cx="281.1" cy="792.5" r="1.9" fill="#111"/>
<circle cx="340.3" cy="794.2" r="1.9" fill="#111"/>
<text x="262" y="726.2" font-size="7.3" fill="#111">R<tspan font-size="4.6" dy="-2.6">2</tspan><tspan dy="2.6"> = 0.433</tspan></text>
<text x="301.5" y="726.2" font-size="7.3">p = 0.039*</text>
<text x="280.3" y="831.5" font-size="7.3" fill="#111" text-anchor="middle">Fecal <tspan font-style="italic">L. johnsonii</tspan> abundance (2^-△CT)</text>
<text x="186.3" y="765.35" font-size="7.3" text-anchor="middle" transform="rotate(-90 186.3 765.35)">Tumor weight (mg)</text>
<line x1="395" y1="691.9" x2="395" y2="828.1" stroke="#555" stroke-width="1.3"/>
<line x1="395" y1="827.5" x2="666" y2="827.5" stroke="#555" stroke-width="1.3"/>
<line x1="393.2" y1="827.5" x2="395" y2="827.5" stroke="#555" stroke-width="1"/>
<text x="392.6" y="829.9" font-size="6.9" text-anchor="end">0</text>
<line x1="393.2" y1="782.5" x2="395" y2="782.5" stroke="#555" stroke-width="1"/>
<text x="392.6" y="784.9" font-size="6.9" text-anchor="end">100000</text>
<line x1="393.2" y1="737.5" x2="395" y2="737.5" stroke="#555" stroke-width="1"/>
<text x="392.6" y="739.9" font-size="6.9" text-anchor="end">200000</text>
<line x1="393.2" y1="692.5" x2="395" y2="692.5" stroke="#555" stroke-width="1"/>
<text x="392.6" y="694.9" font-size="6.9" text-anchor="end">300000</text>
<rect x="399.1" y="731" width="9.4" height="96.5" fill="#D94E34"/>
<rect x="408.5" y="762.1" width="9.4" height="65.4" fill="#54AAC6"/>
<line x1="403.8" y1="700.5" x2="403.8" y2="731" stroke="#E6735E" stroke-width="0.9"/>
<line x1="401.2" y1="700.5" x2="406.4" y2="700.5" stroke="#E6735E" stroke-width="1"/>
<line x1="413.2" y1="760.4" x2="413.2" y2="762.1" stroke="#6DBAD3" stroke-width="0.9"/>
<line x1="410.6" y1="760.4" x2="415.8" y2="760.4" stroke="#6DBAD3" stroke-width="1"/>
<line x1="408.5" y1="827.5" x2="408.5" y2="829.7" stroke="#555" stroke-width="1"/>
<polygon points="411.6,687.05 412.26,688.55 413.89,688.38 412.93,689.7 413.89,691.03 412.26,690.85 411.6,692.35 410.94,690.85 409.31,691.03 410.28,689.7 409.31,688.38 410.94,688.55" fill="#111" stroke="#111" stroke-width="0.5" stroke-linejoin="round"/>
<text x="414.5" y="837.8" font-size="7.4" text-anchor="end" transform="rotate(-45 414.5 837.8)">Tryptophan metabolism</text>
<rect x="426.2" y="749" width="9.4" height="78.5" fill="#D94E34"/>
<rect x="435.6" y="776.8" width="9.4" height="50.7" fill="#54AAC6"/>
<line x1="430.9" y1="726.6" x2="430.9" y2="749" stroke="#E6735E" stroke-width="0.9"/>
<line x1="428.3" y1="726.6" x2="433.5" y2="726.6" stroke="#E6735E" stroke-width="1"/>
<line x1="440.3" y1="773.5" x2="440.3" y2="776.8" stroke="#6DBAD3" stroke-width="0.9"/>
<line x1="437.7" y1="773.5" x2="442.9" y2="773.5" stroke="#6DBAD3" stroke-width="1"/>
<line x1="435.6" y1="827.5" x2="435.6" y2="829.7" stroke="#555" stroke-width="1"/>
<polygon points="437.6,712.75 438.26,714.25 439.89,714.07 438.93,715.4 439.89,716.73 438.26,716.55 437.6,718.05 436.94,716.55 435.31,716.73 436.28,715.4 435.31,714.07 436.94,714.25" fill="#111" stroke="#111" stroke-width="0.5" stroke-linejoin="round"/>
<text x="441.6" y="837.8" font-size="7.4" text-anchor="end" transform="rotate(-45 441.6 837.8)">Benzoate degradation</text>
<rect x="453.3" y="801.8" width="9.4" height="25.7" fill="#D94E34"/>
<rect x="462.7" y="789.2" width="9.4" height="38.3" fill="#54AAC6"/>
<line x1="458" y1="797.8" x2="458" y2="801.8" stroke="#E6735E" stroke-width="0.9"/>
<line x1="455.4" y1="797.8" x2="460.6" y2="797.8" stroke="#E6735E" stroke-width="1"/>
<line x1="467.4" y1="781.5" x2="467.4" y2="789.2" stroke="#6DBAD3" stroke-width="0.9"/>
<line x1="464.8" y1="781.5" x2="470" y2="781.5" stroke="#6DBAD3" stroke-width="1"/>
<line x1="462.7" y1="827.5" x2="462.7" y2="829.7" stroke="#555" stroke-width="1"/>
<polygon points="461.7,768.35 462.36,769.85 463.99,769.67 463.02,771 463.99,772.33 462.36,772.15 461.7,773.65 461.04,772.15 459.41,772.33 460.38,771 459.41,769.67 461.04,769.85" fill="#111" stroke="#111" stroke-width="0.5" stroke-linejoin="round"/>
<text x="468.7" y="837.8" font-size="7.4" text-anchor="end" transform="rotate(-45 468.7 837.8)">Naphthalene degradation</text>
<rect x="480.4" y="808.9" width="9.4" height="18.6" fill="#D94E34"/>
<rect x="489.8" y="803" width="9.4" height="24.5" fill="#54AAC6"/>
<line x1="485.1" y1="806.3" x2="485.1" y2="808.9" stroke="#E6735E" stroke-width="0.9"/>
<line x1="482.5" y1="806.3" x2="487.7" y2="806.3" stroke="#E6735E" stroke-width="1"/>
<line x1="494.5" y1="797.8" x2="494.5" y2="803" stroke="#6DBAD3" stroke-width="0.9"/>
<line x1="491.9" y1="797.8" x2="497.1" y2="797.8" stroke="#6DBAD3" stroke-width="1"/>
<line x1="489.8" y1="827.5" x2="489.8" y2="829.7" stroke="#555" stroke-width="1"/>
<polygon points="490.4,782.55 491.06,784.05 492.69,783.88 491.72,785.2 492.69,786.53 491.06,786.35 490.4,787.85 489.74,786.35 488.11,786.53 489.07,785.2 488.11,783.88 489.74,784.05" fill="#111" stroke="#111" stroke-width="0.5" stroke-linejoin="round"/>
<text x="495.8" y="837.8" font-size="7.4" text-anchor="end" transform="rotate(-45 495.8 837.8)">Retinol metabolism</text>
<rect x="507.5" y="804.6" width="9.4" height="22.9" fill="#D94E34"/>
<rect x="516.9" y="812.6" width="9.4" height="14.9" fill="#54AAC6"/>
<line x1="512.2" y1="797.7" x2="512.2" y2="804.6" stroke="#E6735E" stroke-width="0.9"/>
<line x1="509.6" y1="797.7" x2="514.8" y2="797.7" stroke="#E6735E" stroke-width="1"/>
<line x1="521.6" y1="809.7" x2="521.6" y2="812.6" stroke="#6DBAD3" stroke-width="0.9"/>
<line x1="519" y1="809.7" x2="524.2" y2="809.7" stroke="#6DBAD3" stroke-width="1"/>
<line x1="516.9" y1="827.5" x2="516.9" y2="829.7" stroke="#555" stroke-width="1"/>
<polygon points="518.3,782.55 518.96,784.05 520.59,783.88 519.62,785.2 520.59,786.53 518.96,786.35 518.3,787.85 517.64,786.35 516.01,786.53 516.97,785.2 516.01,783.88 517.64,784.05" fill="#111" stroke="#111" stroke-width="0.5" stroke-linejoin="round"/>
<text x="522.9" y="837.8" font-size="7.4" text-anchor="end" transform="rotate(-45 522.9 837.8)">FoxO signaling pathway</text>
<rect x="534.6" y="805.2" width="9.4" height="22.3" fill="#D94E34"/>
<rect x="544" y="813.2" width="9.4" height="14.3" fill="#54AAC6"/>
<line x1="539.3" y1="798.3" x2="539.3" y2="805.2" stroke="#E6735E" stroke-width="0.9"/>
<line x1="536.7" y1="798.3" x2="541.9" y2="798.3" stroke="#E6735E" stroke-width="1"/>
<line x1="548.7" y1="810.3" x2="548.7" y2="813.2" stroke="#6DBAD3" stroke-width="0.9"/>
<line x1="546.1" y1="810.3" x2="551.3" y2="810.3" stroke="#6DBAD3" stroke-width="1"/>
<line x1="544" y1="827.5" x2="544" y2="829.7" stroke="#555" stroke-width="1"/>
<polygon points="543.8,782.55 544.46,784.05 546.09,783.88 545.12,785.2 546.09,786.53 544.46,786.35 543.8,787.85 543.14,786.35 541.51,786.53 542.47,785.2 541.51,783.88 543.14,784.05" fill="#111" stroke="#111" stroke-width="0.5" stroke-linejoin="round"/>
<text x="550.8" y="837" font-size="7.4" text-anchor="end" transform="rotate(-45 550.8 837)">Longevity regulating pathway</text>
<rect x="561.7" y="818.6" width="9.4" height="8.9" fill="#D94E34"/>
<rect x="571.1" y="811.1" width="9.4" height="16.4" fill="#54AAC6"/>
<line x1="566.4" y1="814.1" x2="566.4" y2="818.6" stroke="#E6735E" stroke-width="0.9"/>
<line x1="563.8" y1="814.1" x2="569" y2="814.1" stroke="#E6735E" stroke-width="1"/>
<line x1="575.8" y1="807.3" x2="575.8" y2="811.1" stroke="#6DBAD3" stroke-width="0.9"/>
<line x1="573.2" y1="807.3" x2="578.4" y2="807.3" stroke="#6DBAD3" stroke-width="1"/>
<line x1="571.1" y1="827.5" x2="571.1" y2="829.7" stroke="#555" stroke-width="1"/>
<polygon points="570.4,782.55 571.06,784.05 572.69,783.88 571.73,785.2 572.69,786.53 571.06,786.35 570.4,787.85 569.74,786.35 568.11,786.53 569.07,785.2 568.11,783.88 569.74,784.05" fill="#111" stroke="#111" stroke-width="0.5" stroke-linejoin="round"/>
<text x="580.3" y="834.6" font-size="7.4" text-anchor="end" transform="rotate(-45 580.3 834.6)">Penicillin and cephalosporin biosynthesis</text>
<rect x="588.8" y="812.6" width="9.4" height="14.9" fill="#D94E34"/>
<rect x="598.2" y="815" width="9.4" height="12.5" fill="#54AAC6"/>
<line x1="593.5" y1="810.3" x2="593.5" y2="812.6" stroke="#E6735E" stroke-width="0.9"/>
<line x1="590.9" y1="810.3" x2="596.1" y2="810.3" stroke="#E6735E" stroke-width="1"/>
<line x1="602.9" y1="814.1" x2="602.9" y2="815" stroke="#6DBAD3" stroke-width="0.9"/>
<line x1="600.3" y1="814.1" x2="605.5" y2="814.1" stroke="#6DBAD3" stroke-width="1"/>
<line x1="598.2" y1="827.5" x2="598.2" y2="829.7" stroke="#555" stroke-width="1"/>
<polygon points="596.7,782.55 597.36,784.05 598.99,783.88 598.03,785.2 598.99,786.53 597.36,786.35 596.7,787.85 596.04,786.35 594.41,786.53 595.38,785.2 594.41,783.88 596.04,784.05" fill="#111" stroke="#111" stroke-width="0.5" stroke-linejoin="round"/>
<text x="610" y="832" font-size="7.4" text-anchor="end" transform="rotate(-45 610 832)">Biosynthesis of siderophore group nonribosomal peptides</text>
<rect x="615.9" y="810.9" width="9.4" height="16.6" fill="#D94E34"/>
<rect x="625.3" y="817.1" width="9.4" height="10.4" fill="#54AAC6"/>
<line x1="620.6" y1="805.2" x2="620.6" y2="810.9" stroke="#E6735E" stroke-width="0.9"/>
<line x1="618" y1="805.2" x2="623.2" y2="805.2" stroke="#E6735E" stroke-width="1"/>
<line x1="630" y1="816.2" x2="630" y2="817.1" stroke="#6DBAD3" stroke-width="0.9"/>
<line x1="627.4" y1="816.2" x2="632.6" y2="816.2" stroke="#6DBAD3" stroke-width="1"/>
<line x1="625.3" y1="827.5" x2="625.3" y2="829.7" stroke="#555" stroke-width="1"/>
<polygon points="623.1,782.55 623.76,784.05 625.39,783.88 624.43,785.2 625.39,786.53 623.76,786.35 623.1,787.85 622.44,786.35 620.81,786.53 621.77,785.2 620.81,783.88 622.44,784.05" fill="#111" stroke="#111" stroke-width="0.5" stroke-linejoin="round"/>
<text x="634.3" y="834.8" font-size="7.4" text-anchor="end" transform="rotate(-45 634.3 834.8)">Amyotrophic lateral sclerosis (ALS)</text>
<rect x="643" y="815" width="9.4" height="12.5" fill="#D94E34"/>
<rect x="652.4" y="819.5" width="9.4" height="8" fill="#54AAC6"/>
<line x1="647.7" y1="811.1" x2="647.7" y2="815" stroke="#E6735E" stroke-width="0.9"/>
<line x1="645.1" y1="811.1" x2="650.3" y2="811.1" stroke="#E6735E" stroke-width="1"/>
<line x1="657.1" y1="817.7" x2="657.1" y2="819.5" stroke="#6DBAD3" stroke-width="0.9"/>
<line x1="654.5" y1="817.7" x2="659.7" y2="817.7" stroke="#6DBAD3" stroke-width="1"/>
<line x1="652.4" y1="827.5" x2="652.4" y2="829.7" stroke="#555" stroke-width="1"/>
<polygon points="650.6,782.55 651.26,784.05 652.89,783.88 651.93,785.2 652.89,786.53 651.26,786.35 650.6,787.85 649.94,786.35 648.31,786.53 649.27,785.2 648.31,783.88 649.94,784.05" fill="#111" stroke="#111" stroke-width="0.5" stroke-linejoin="round"/>
<text x="658.4" y="837.8" font-size="7.4" text-anchor="end" transform="rotate(-45 658.4 837.8)">Thyroid hormone synthesis</text>
<rect x="609.6" y="717.4" width="6.6" height="6.4" fill="#D94E34"/>
<rect x="609.6" y="731.8" width="6.6" height="6.6" fill="#54AAC6"/>
<text x="620.6" y="723.4" font-size="7">Control</text>
<text x="620.6" y="737.8" font-size="7">FMD</text>
</svg></body></html>
